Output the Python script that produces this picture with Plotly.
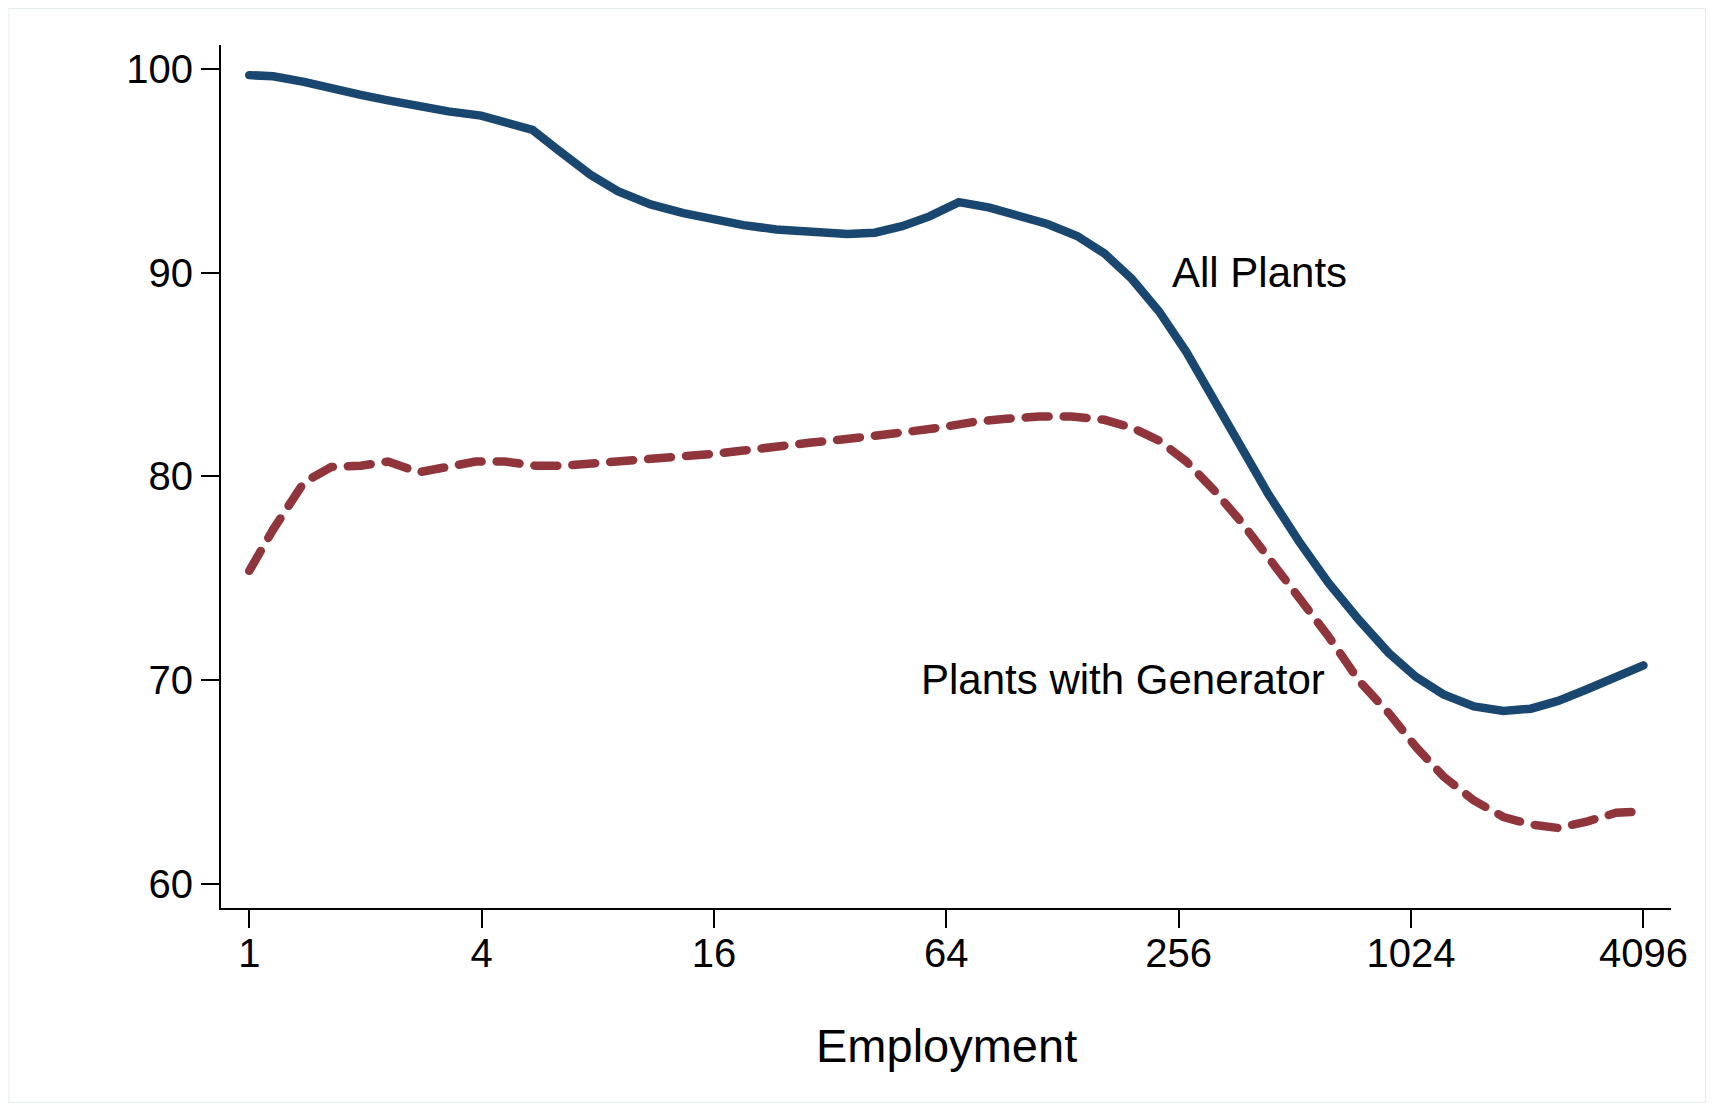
import plotly.graph_objects as go

# ---- data ----
employment_all = [1, 1.154, 1.386, 1.653, 1.945, 2.289, 2.694, 3.279, 3.986, 4.601,
                  5.419, 6.294, 7.652, 9.012, 10.96, 13.33, 16, 19.08, 23.20, 29.16,
                  35.46, 41.76, 49.15, 57.85, 68.98, 82.83, 97.48, 116.98, 139.6, 164.3,
                  193.3, 227.7, 268.0, 315.3, 371.2, 437.2, 524.5, 625.6, 751.2, 895.8,
                  1054, 1242, 1490, 1777, 2092, 2462, 2937, 3481, 4096]
share_all = [99.71, 99.65, 99.38, 99.01, 98.74, 98.47, 98.20, 97.93, 97.72, 97.40,
             97.02, 96.05, 94.82, 94.01, 93.36, 92.93, 92.61, 92.34, 92.13, 91.97,
             91.91, 91.97, 92.29, 92.77, 93.47, 93.20, 92.83, 92.40, 91.81, 90.95,
             89.71, 88.10, 86.11, 83.80, 81.38, 79.12, 76.81, 74.77, 72.94, 71.33,
             70.15, 69.29, 68.70, 68.48, 68.59, 68.97, 69.56, 70.20, 70.72]

employment_gen = [1, 1.154, 1.386, 1.631, 1.945, 2.289, 2.749, 3.279, 3.859, 4.601,
                  5.525, 6.503, 7.652, 9.012, 10.96, 13.33, 16, 19.08, 23.20, 28.23,
                  34.32, 41.76, 50.77, 61.73, 75.05, 91.32, 111.1, 135.1, 164.3, 193.3,
                  227.7, 268.0, 315.3, 371.2, 437.2, 524.5, 625.6, 751.2, 895.8, 1054,
                  1242, 1490, 1777, 2092, 2462, 2937, 3481, 4096]
share_gen = [75.36, 77.40, 79.71, 80.46, 80.52, 80.73, 80.20, 80.46, 80.73, 80.73,
             80.52, 80.52, 80.62, 80.68, 80.84, 80.95, 81.11, 81.27, 81.49, 81.65,
             81.81, 81.97, 82.19, 82.40, 82.67, 82.83, 82.94, 82.94, 82.78, 82.40,
             81.76, 80.73, 79.34, 77.78, 76.06, 74.12, 72.14, 69.95, 68.38, 66.71,
             65.26, 64.08, 63.27, 62.90, 62.73, 63.06, 63.48, 63.54]

x_tickvals = [1, 4, 16, 64, 256, 1024, 4096]
x_ticktext = ["1", "4", "16", "64", "256", "1024", "4096"]
y_tickvals = [60, 70, 80, 90, 100]
x_title = "Employment"
label_all = "All Plants"
label_gen = "Plants with Generator"

NAVY = "#1a476f"
MAROON = "#90353b"
FONT = "Liberation Sans, Arial, sans-serif"

# page body has an 8px margin: the figure sits at (8, 8) in the window
FIG_W, FIG_H = 1699, 1095
PL, PT, PR, PB = 212.7, 37, 35.5, 195.3
PW = FIG_W - PL - PR
PH = FIG_H - PT - PB

fig = go.Figure()
fig.add_trace(go.Scatter(x=employment_all, y=share_all, mode="lines",
                         line=dict(color=NAVY, width=8.5), name=label_all,
                         showlegend=False, hoverinfo="skip"))
fig.add_trace(go.Scatter(x=employment_gen, y=share_gen, mode="lines",
                         line=dict(color=MAROON, width=8.5, dash="23px,15px"),
                         name=label_gen, showlegend=False, hoverinfo="skip"))

fig.add_annotation(x=2.618, y=90, xref="x", yref="y", text=label_all, showarrow=False,
                   xanchor="center", yanchor="middle",
                   font=dict(family=FONT, size=42, color="black"))
fig.add_annotation(x=2.263, y=70, xref="x", yref="y", text=label_gen, showarrow=False,
                   xanchor="center", yanchor="middle",
                   font=dict(family=FONT, size=42, color="black"))

# x-axis title as annotation (cap centre ~1045 px in the window)
fig.add_annotation(x=0.5, y=(PT + PH - (1045 - 8)) / PH, xref="paper", yref="paper",
                   text=x_title, showarrow=False, xanchor="center", yanchor="middle",
                   font=dict(family=FONT, size=47, color="black"))

# faint outer graph-region border
fig.add_shape(type="rect", xref="paper", yref="paper",
              x0=(0.5 - PL) / PW, x1=(FIG_W - 1 - PL) / PW,
              y0=(PT + PH - (FIG_H - 1)) / PH, y1=(PT + PH - 0.5) / PH,
              line=dict(color="#e4ecee", width=1), layer="below")

fig.update_layout(
    width=FIG_W, height=FIG_H,
    margin=dict(l=PL, r=PR, t=PT, b=PB, pad=0),
    paper_bgcolor="white", plot_bgcolor="white",
    font=dict(family=FONT, color="black"),
    showlegend=False,
)
fig.update_xaxes(type="log", range=[-0.0732, 3.6837],
                 tickvals=x_tickvals, ticktext=x_ticktext,
                 showgrid=False, zeroline=False,
                 showline=True, linecolor="black", linewidth=2,
                 ticks="outside", ticklen=18, tickwidth=1.5, tickcolor="black",
                 ticklabelstandoff=-9,
                 tickfont=dict(family=FONT, size=40, color="black"))
fig.update_yaxes(range=[58.80, 101.19], tickvals=y_tickvals,
                 showgrid=False, zeroline=False,
                 showline=True, linecolor="black", linewidth=2,
                 ticks="outside", ticklen=18, tickwidth=1.5, tickcolor="black",
                 tickfont=dict(family=FONT, size=40, color="black"))

post = """
var gd = document.getElementById('{plot_id}');
gd.querySelectorAll('.scatterlayer path.js-line').forEach(function(p){
  p.style.strokeLinecap = 'round';
});
"""
fig.write_html("out.html", post_script=post)
